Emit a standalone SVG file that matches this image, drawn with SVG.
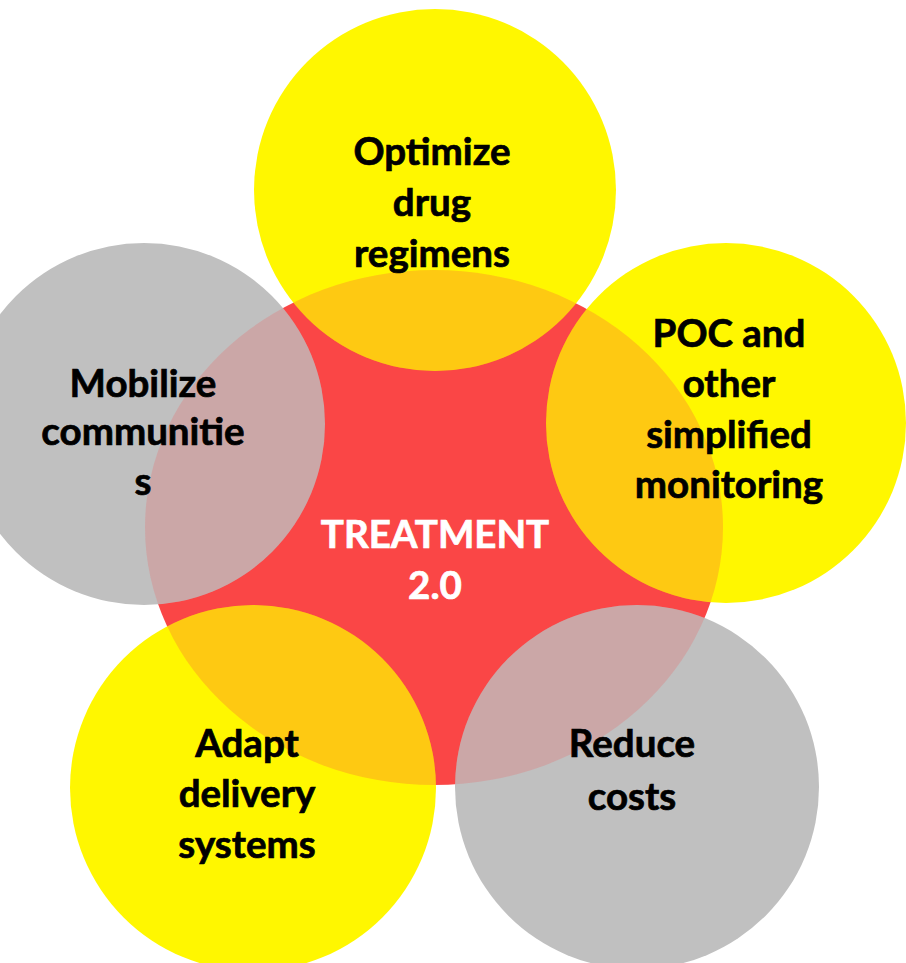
<svg xmlns="http://www.w3.org/2000/svg" xmlns:xlink="http://www.w3.org/1999/xlink" width="906" height="963" viewBox="0 0 906 963">
  <style>
    .yellow { fill: #FFF700; }
    .gray { fill: #C0C0C0; }
    .core { fill: #FA4646; }
    .tint { fill: #FA4646; opacity: 0.26; }
    .tint-light { fill: #FA4646; opacity: 0.2; }
    .label { font-family: Lato, "Open Sans", "Liberation Sans", sans-serif; font-weight: bold; font-size: 38.5px; text-anchor: middle; fill: #000000; stroke: #000000; stroke-width: 0.7px; }
    .center-label { fill: #FFFFFF; stroke: #FFFFFF; }
  </style>
  <defs>
    <!-- central ellipse, reused for the tinted overlaps -->
    <ellipse id="coreShape" cx="434" cy="527.5" rx="289" ry="257.5"/>
    <clipPath id="clipTop"><circle cx="435" cy="190" r="181"/></clipPath>
    <clipPath id="clipRight"><circle cx="726" cy="423" r="180"/></clipPath>
    <clipPath id="clipLeft"><circle cx="144" cy="424" r="181"/></clipPath>
    <clipPath id="clipBottomLeft"><circle cx="253" cy="788" r="183"/></clipPath>
    <clipPath id="clipBottomRight"><circle cx="637" cy="787" r="182"/></clipPath>
  </defs>

  <rect width="906" height="963" fill="#FFFFFF"/>

  <g id="connectors"/>

  <g id="node-treatment">
    <use xlink:href="#coreShape" class="core"/>
    <text class="label center-label" x="435" y="548">TREATMENT</text>
    <text class="label center-label" x="435" y="599">2.0</text>
  </g>

  <g id="node-optimize">
    <circle class="yellow" cx="435" cy="190" r="181"/>
    <use xlink:href="#coreShape" class="tint" clip-path="url(#clipTop)"/>
    <text class="label" x="432" y="165">Optimize</text>
    <text class="label" x="432" y="216">drug</text>
    <text class="label" x="432" y="267">regimens</text>
  </g>

  <g id="node-poc">
    <circle class="yellow" cx="726" cy="423" r="180"/>
    <use xlink:href="#coreShape" class="tint" clip-path="url(#clipRight)"/>
    <text class="label" x="729" y="347">POC and</text>
    <text class="label" x="729" y="397">other</text>
    <text class="label" x="729" y="448">simplified</text>
    <text class="label" x="729" y="498">monitoring</text>
  </g>

  <g id="node-mobilize">
    <circle class="gray" cx="144" cy="424" r="181"/>
    <use xlink:href="#coreShape" class="tint-light" clip-path="url(#clipLeft)"/>
    <text class="label" x="143" y="397">Mobilize</text>
    <text class="label" x="143" y="445">communitie</text>
    <text class="label" x="143" y="495">s</text>
  </g>

  <g id="node-adapt">
    <circle class="yellow" cx="253" cy="788" r="183"/>
    <use xlink:href="#coreShape" class="tint" clip-path="url(#clipBottomLeft)"/>
    <text class="label" x="247" y="757">Adapt</text>
    <text class="label" x="247" y="807">delivery</text>
    <text class="label" x="247" y="858">systems</text>
  </g>

  <g id="node-reduce">
    <circle class="gray" cx="637" cy="787" r="182"/>
    <use xlink:href="#coreShape" class="tint-light" clip-path="url(#clipBottomRight)"/>
    <text class="label" x="632" y="757">Reduce</text>
    <text class="label" x="632" y="810">costs</text>
  </g>
</svg>
